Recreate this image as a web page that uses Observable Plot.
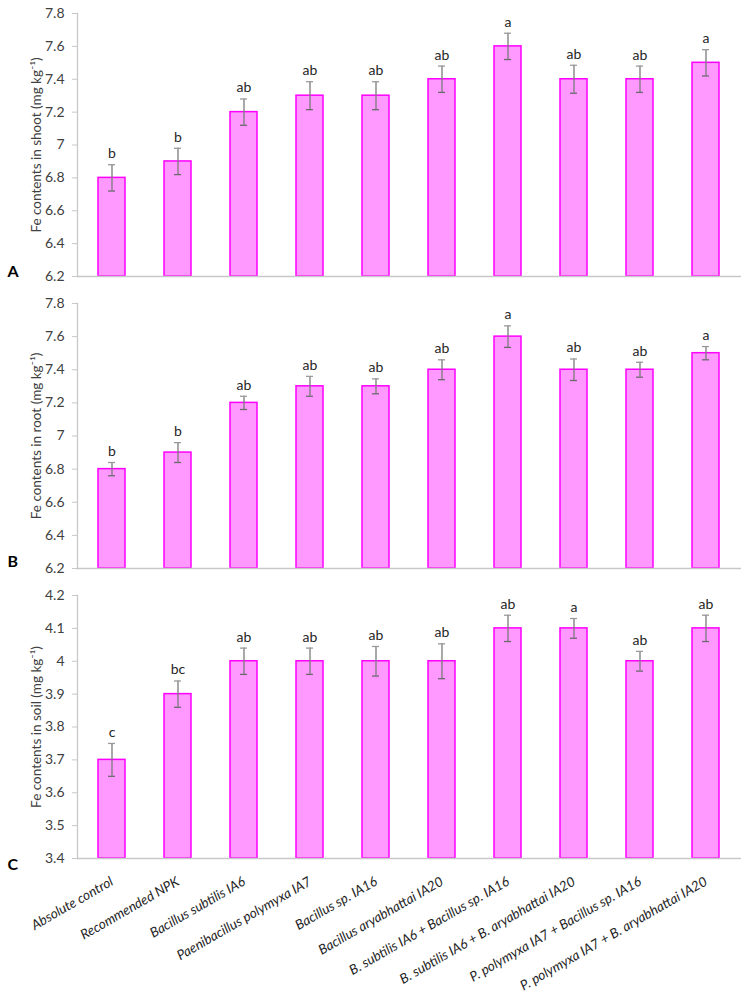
<!DOCTYPE html>
<html>
<head>
<meta charset="utf-8">
<script src="https://cdn.jsdelivr.net/npm/d3@7"></script>
<script src="https://cdn.jsdelivr.net/npm/@observablehq/plot@0.6"></script>
<style>
  body { margin: 0; background: #fff; }
  #chart { width: 749px; position: relative; }
  #chart svg { display: block; }
</style>
</head>
<body>
<div id="chart"></div>
<script>
// ---- data ----
const categories = [
  "Absolute control",
  "Recommended NPK",
  "Bacillus subtilis IA6",
  "Paenibacillus polymyxa IA7",
  "Bacillus sp. IA16",
  "Bacillus aryabhattai IA20",
  "B. subtilis IA6 + Bacillus sp. IA16",
  "B. subtilis IA6 + B. aryabhattai IA20",
  "P. polymyxa IA7 + Bacillus sp. IA16",
  "P. polymyxa IA7 + B. aryabhattai IA20"
];

const shootValues  = [6.8, 6.9, 7.2, 7.3, 7.3, 7.4, 7.6, 7.4, 7.4, 7.5];
const shootErrors  = [0.08, 0.08, 0.08, 0.085, 0.085, 0.08, 0.08, 0.085, 0.08, 0.08];
const shootLetters = ["b", "b", "ab", "ab", "ab", "ab", "a", "ab", "ab", "a"];

const rootValues   = [6.8, 6.9, 7.2, 7.3, 7.3, 7.4, 7.6, 7.4, 7.4, 7.5];
const rootErrors   = [0.04, 0.06, 0.04, 0.06, 0.045, 0.06, 0.065, 0.065, 0.045, 0.04];
const rootLetters  = ["b", "b", "ab", "ab", "ab", "ab", "a", "ab", "ab", "a"];

const soilValues   = [3.7, 3.9, 4.0, 4.0, 4.0, 4.0, 4.1, 4.1, 4.0, 4.1];
const soilErrors   = [0.05, 0.04, 0.04, 0.04, 0.045, 0.053, 0.04, 0.03, 0.03, 0.04];
const soilLetters  = ["c", "bc", "ab", "ab", "ab", "ab", "ab", "a", "ab", "ab"];

const plantTicks       = [6.2, 6.4, 6.6, 6.8, 7.0, 7.2, 7.4, 7.6, 7.8];
const plantTickLabels  = ["6.2", "6.4", "6.6", "6.8", "7", "7.2", "7.4", "7.6", "7.8"];
const soilTicks        = [3.4, 3.5, 3.6, 3.7, 3.8, 3.9, 4.0, 4.1, 4.2];
const soilTickLabels   = ["3.4", "3.5", "3.6", "3.7", "3.8", "3.9", "4", "4.1", "4.2"];

const panels = [
  {tag: "A", title: "Fe contents in shoot (mg kg\u207B\u00B9)", values: shootValues, errors: shootErrors, letters: shootLetters,
   ticks: plantTicks, tickLabels: plantTickLabels, height: 290, mt: 13, mb: 14, xLabels: false, tagDy: 0},
  {tag: "B", title: "Fe contents in root (mg kg\u207B\u00B9)", values: rootValues, errors: rootErrors, letters: rootLetters,
   ticks: plantTicks, tickLabels: plantTickLabels, height: 290, mt: 13, mb: 12, xLabels: false, tagDy: -2},
  {tag: "C", title: "Fe contents in soil (mg kg\u207B\u00B9)", values: soilValues, errors: soilErrors, letters: soilLetters,
   ticks: soilTicks, tickLabels: soilTickLabels, height: 414, mt: 15, mb: 136, xLabels: true, tagDy: 11}
];

const FONT = "Lato, 'Open Sans', sans-serif";
const container = document.getElementById("chart");

for (const p of panels) {
  const rows = categories.map((c, i) => ({
    cat: c, value: p.values[i], err: p.errors[i], letter: p.letters[i]
  }));
  const yMin = p.ticks[0], yMax = p.ticks[p.ticks.length - 1];
  const labelMap = new Map(p.ticks.map((t, i) => [t, p.tickLabels[i]]));

  const marks = [
    Plot.barY(rows, {x: "cat", y1: () => yMin, y2: "value", fill: "#ff99ff", stroke: "#ff00ff", strokeWidth: 1.5}),
    Plot.ruleX(rows, {x: "cat", y1: d => d.value - d.err, y2: d => d.value + d.err, stroke: "#7a7a7a", strokeWidth: 1.3}),
    Plot.tickY(rows, {x: "cat", y: d => d.value - d.err, stroke: "#6a6a6a", strokeWidth: 1.3, insetLeft: 10, insetRight: 10}),
    Plot.tickY(rows, {x: "cat", y: d => d.value + d.err, stroke: "#9a9a9a", strokeWidth: 1.3, insetLeft: 10, insetRight: 10}),
    Plot.text(rows, {x: "cat", y: d => d.value + d.err, text: "letter", dy: -11, fill: "#262626", fontSize: 14}),
    Plot.ruleY([yMin], {stroke: "#c8c8c8", strokeWidth: 1.3}),
    Plot.frame({anchor: "left", stroke: "#c8c8c8", strokeWidth: 1.3}),
    Plot.axisY({ticks: p.ticks, tickFormat: d => labelMap.get(d), tickSize: 5, tickPadding: 8,
      stroke: "#c8c8c8", fill: "#404040", fontSize: 14, label: null}),
    Plot.text([p.title], {frameAnchor: "left", dx: -41, rotate: -90, textAnchor: "middle", fill: "#404040", fontSize: 13.5}),
    Plot.text([p.tag], {frameAnchor: "bottom-left", dx: -70, dy: p.tagDy, textAnchor: "start", fill: "#000", fontSize: 16, fontWeight: "bold"})
  ];
  if (p.xLabels) {
    marks.push(Plot.axisX({tickRotate: -30, tickSize: 0, tickPadding: 22, fontSize: 13.5, fontStyle: "italic", fill: "#262626", label: null}));
  } else {
    marks.push(Plot.axisX({ticks: [], label: null, tickSize: 0}));
  }

  const chart = Plot.plot({
    width: 749,
    height: p.height,
    marginLeft: 77,
    marginRight: 8,
    marginTop: p.mt,
    marginBottom: p.mb,
    style: {fontFamily: FONT, background: "#fff", overflow: "visible"},
    x: {domain: categories, paddingInner: 0.59, paddingOuter: 0.295, axis: null},
    y: {domain: [yMin, yMax], axis: null},
    marks
  });
  container.appendChild(chart);
}
</script>
</body>
</html>
